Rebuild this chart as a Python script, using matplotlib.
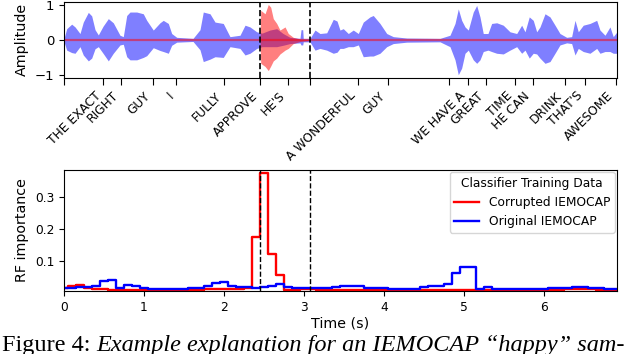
import numpy as np
import matplotlib
matplotlib.use("Agg")
import matplotlib.pyplot as plt

# --- waveform envelope, time in seconds
wave_t = [0.000, 0.034, 0.096, 0.138, 0.200, 0.241, 0.304, 0.346, 0.388, 0.429,
          0.488, 0.554, 0.616, 0.700, 0.741, 0.784, 0.825, 0.909, 0.991, 1.034,
          1.116, 1.200, 1.241, 1.304, 1.346, 1.409, 1.613, 1.700, 1.741, 1.825,
          1.888, 1.991, 2.075, 2.200, 2.263, 2.325, 2.409, 2.475, 2.575, 2.659,
          2.738, 2.825, 2.950, 2.963, 2.984, 2.991, 3.075, 3.138, 3.200, 3.284,
          3.366, 3.413, 3.450, 3.491, 3.554, 3.616, 3.679, 3.741, 3.825, 3.866,
          3.950, 4.034, 4.116, 4.284, 4.700, 4.825, 4.888, 4.929, 4.971, 5.013,
          5.054, 5.116, 5.159, 5.200, 5.241, 5.300, 5.346, 5.409, 5.491, 5.575,
          5.659, 5.721, 5.763, 5.816, 5.866, 5.909, 5.950, 6.013, 6.075, 6.138,
          6.200, 6.284, 6.346, 6.388, 6.429, 6.491, 6.575, 6.659, 6.700, 6.763,
          6.825, 6.866, 6.913]
wave_hi = [0.05, 0.33, 0.46, 0.38, 0.19, 0.52, 0.80, 0.70, 0.30, 0.15,
           0.40, 0.62, 0.50, 0.14, 0.10, 0.71, 0.81, 0.81, 0.76, 0.57,
           0.29, 0.50, 0.57, 0.48, 0.19, 0.08, 0.05, 0.30, 0.81, 0.76,
           0.52, 0.48, 0.10, 0.14, 0.43, 0.38, 0.24, 0.20, 0.29, 0.33,
           0.19, 0.08, 0.05, 0.30, 0.30, 0.05, 0.05, 0.29, 0.19, 0.21,
           0.60, 0.55, 0.29, 0.33, 0.19, 0.29, 0.19, 0.52, 0.67, 0.71,
           0.48, 0.19, 0.10, 0.06, 0.05, 0.14, 0.48, 0.90, 0.57, 0.38,
           0.29, 0.81, 1.00, 0.67, 0.19, 0.19, 0.48, 0.50, 0.43, 0.24,
           0.19, 0.43, 0.24, 0.67, 0.57, 0.24, 0.38, 0.76, 0.67, 0.43,
           0.19, 0.08, 0.10, 0.57, 0.24, 0.43, 0.48, 0.57, 0.29, 0.14,
           0.38, 0.10, 0.24]
wave_lo = [-0.05, -0.29, -0.36, -0.38, -0.19, -0.43, -0.60, -0.52, -0.25, -0.19,
           -0.38, -0.60, -0.38, -0.14, -0.12, -0.48, -0.57, -0.57, -0.50, -0.45,
           -0.22, -0.30, -0.33, -0.38, -0.15, -0.06, -0.04, -0.28, -0.62, -0.55,
           -0.48, -0.50, -0.19, -0.24, -0.43, -0.38, -0.24, -0.19, -0.19, -0.19,
           -0.15, -0.10, -0.08, -0.14, -0.14, -0.05, -0.05, -0.29, -0.24, -0.29,
           -0.38, -0.35, -0.24, -0.24, -0.19, -0.19, -0.14, -0.48, -0.46, -0.46,
           -0.38, -0.19, -0.10, -0.06, -0.05, -0.19, -0.57, -1.00, -0.81, -0.38,
           -0.29, -0.57, -0.67, -0.57, -0.33, -0.29, -0.33, -0.38, -0.40, -0.29,
           -0.19, -0.38, -0.29, -0.52, -0.38, -0.40, -0.52, -0.67, -0.62, -0.38,
           -0.14, -0.08, -0.10, -0.43, -0.24, -0.33, -0.38, -0.24, -0.38, -0.33,
           -0.33, -0.38, -0.38]

# corrupted segment
corr_t = [2.450, 2.459, 2.513, 2.554, 2.584, 2.616, 2.659, 2.700, 2.763, 2.804,
          2.866, 2.950, 3.075]
corr_hi = [0.0, 0.86, 0.76, 1.03, 0.95, 0.62, 0.48, 0.29, 0.38, 0.19, 0.08, 0.03, 0.01]
corr_lo = [0.0, -0.67, -0.76, -0.88, -0.75, -0.60, -0.52, -0.40, -0.29, -0.24, -0.10, -0.04, -0.01]

word_times = [0.0, 0.49, 0.71, 1.11, 1.40, 2.0, 2.45, 2.80, 3.08, 3.675, 4.05,
              4.81, 5.05, 5.275, 5.64, 5.86, 6.26, 6.51, 6.9]
word_labels = ['', 'THE EXACT', 'RIGHT', 'GUY', 'I', 'FULLY', 'APPROVE', "HE'S", '',
               'A WONDERFUL', 'GUY', '', 'WE HAVE A', 'GREAT', 'TIME', 'HE CAN',
               'DRINK', "THAT'S", 'AWESOME']

seg_start, seg_end = 2.45, 3.08

# --- RF importance per 0.1 s bin
BIN = 0.1
imp_original = [0.012, 0.012, 0.016, 0.016, 0.019, 0.035, 0.038, 0.013, 0.022, 0.019,
                0.014, 0.010, 0.010, 0.010, 0.010, 0.011, 0.012, 0.014, 0.021, 0.028,
                0.031, 0.021, 0.018, 0.016, 0.014, 0.017, 0.020, 0.027, 0.018, 0.012,
                0.014, 0.015, 0.013, 0.013, 0.018, 0.020, 0.020, 0.020, 0.014, 0.012,
                0.012, 0.011, 0.011, 0.011, 0.011, 0.016, 0.019, 0.019, 0.025, 0.060,
                0.079, 0.079, 0.011, 0.016, 0.010, 0.009, 0.009, 0.009, 0.009, 0.010,
                0.011, 0.013, 0.014, 0.014, 0.016, 0.016, 0.014, 0.013, 0.011, 0.011]
imp_corrupted = [0.014, 0.019, 0.024, 0.014, 0.010, 0.009, 0.008, 0.008, 0.007, 0.007,
                 0.007, 0.007, 0.007, 0.007, 0.007, 0.007, 0.007, 0.007, 0.009, 0.009,
                 0.009, 0.009, 0.009, 0.012, 0.175, 0.378, 0.122, 0.056, 0.008, 0.007,
                 0.009, 0.009, 0.008, 0.007, 0.007, 0.007, 0.007, 0.006, 0.006, 0.006,
                 0.006, 0.006, 0.006, 0.006, 0.006, 0.006, 0.006, 0.006, 0.006, 0.006,
                 0.006, 0.006, 0.006, 0.006, 0.008, 0.006, 0.006, 0.006, 0.006, 0.006,
                 0.006, 0.006, 0.006, 0.009, 0.009, 0.009, 0.009, 0.007, 0.007, 0.007]

XMAX = 6.91

fig = plt.figure(figsize=(6.3, 3.54), dpi=100)
ax1 = fig.add_axes([0.1016, 0.781, 0.8774, 0.2134])
ax2 = fig.add_axes([0.1016, 0.178, 0.8774, 0.3418])

# top: waveform
ax1.fill_between(wave_t, wave_lo, wave_hi, color='blue', alpha=0.5, lw=0)
ax1.fill_between(corr_t, corr_lo, corr_hi, color='red', alpha=0.5, lw=0)
ax1.plot([0, XMAX], [0, 0], color='red', alpha=0.5, lw=1.6)
ax1.axvline(seg_start, color='black', ls='--', lw=1.2)
ax1.axvline(seg_end, color='black', ls='--', lw=1.2)
ax1.set_xlim(0, XMAX)
ax1.set_ylim(-1.08, 1.1)
ax1.set_yticks([-1, 0, 1])
ax1.set_xticks(word_times)
ax1.set_xticklabels(word_labels, rotation=45, ha='right')
ax1.tick_params(axis='x', length=5, labelsize=8.8)
ax1.tick_params(axis='y', labelsize=9.5)
ax1.set_ylabel('Amplitude', fontsize=10.3)

# bottom: importance
t_bins = np.arange(len(imp_original)) * BIN
ax2.step(t_bins, imp_corrupted, where='mid', color='red', lw=1.7, label='Corrupted IEMOCAP')
ax2.step(t_bins, imp_original, where='mid', color='blue', lw=1.7, label='Original IEMOCAP')
ax2.axvline(seg_start, color='black', ls='--', lw=1.0)
ax2.axvline(seg_end, color='black', ls='--', lw=1.0)
ax2.set_xlim(0, XMAX)
ax2.set_ylim(0.004, 0.387)
ax2.set_yticks([0.1, 0.2, 0.3])
ax2.tick_params(labelsize=8.8)
ax2.set_xlabel('Time (s)', fontsize=10.3, labelpad=2)
ax2.set_ylabel('RF importance', fontsize=10.3)
ax2.legend(title='Classifier Training Data', loc='upper right', fontsize=8.8,
           title_fontsize=8.8, borderaxespad=0.15)

# caption line from the paper
cap_y = 3 / 354
t1 = fig.text(0.003, cap_y, 'Figure 4: ', family='Liberation Serif', fontsize=17.5,
              va='baseline')
fig.canvas.draw()
bb = t1.get_window_extent()
fig.text(bb.x1 / fig.bbox.width, cap_y,
         'Example explanation for an IEMOCAP \u201chappy\u201d sam-',
         family='Liberation Serif', style='italic', fontsize=17.5, va='baseline')

fig.savefig('out.png', dpi=100)
